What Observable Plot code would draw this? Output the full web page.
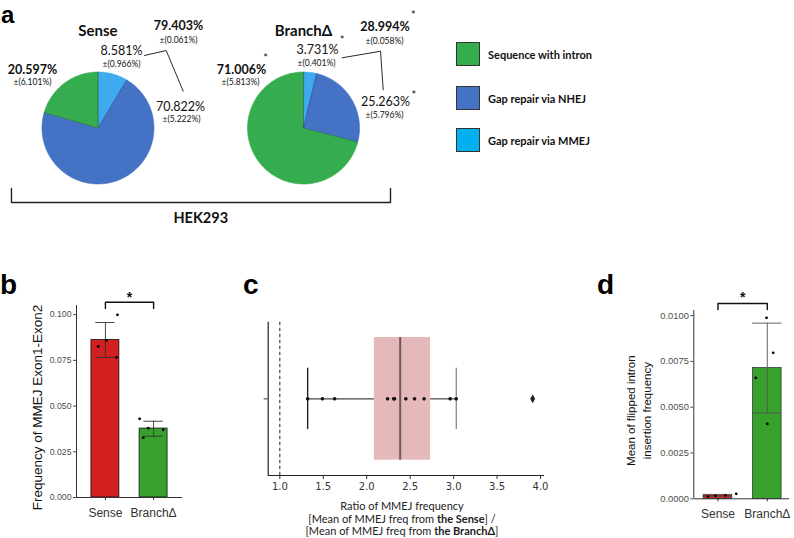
<!DOCTYPE html>
<html>
<head>
<meta charset="utf-8">
<script src="https://cdn.jsdelivr.net/npm/d3@7"></script>
<script src="https://cdn.jsdelivr.net/npm/@observablehq/plot@0.6"></script>
<style>
  body { margin: 0; background: #fff; }
  #fig { position: relative; width: 794px; height: 538px; overflow: hidden; background: #fff; }
  .letter { position: absolute; font: bold 28px "Liberation Sans", Arial, sans-serif; line-height: 1; color: #000; }
  .legend-item { position: absolute; left: 456px; height: 24px; display: flex; align-items: center; }
  .swatch { width: 22px; height: 22px; border: 1px solid #333; box-sizing: content-box; }
  .legend-text { margin-left: 8px; font: bold 11px Lato, "Open Sans", sans-serif; color: #111; white-space: nowrap; }
  #clabel { position: absolute; left: 290px; width: 224px; top: 500px; text-align: center; font: 11px Lato, "Open Sans", sans-serif; line-height: 12.5px; color: #222; white-space: nowrap; }
</style>
</head>
<body>
<div id="fig"></div>
<script>
// ---------------- DATA ----------------
// Panel a: pie charts (HEK293)
const pieGroups = ["Sense", "BranchΔ"];
const pieCategories = ["Gap repair via MMEJ", "Gap repair via NHEJ", "Sequence with intron"];
const pieColors = ["#3eabf0", "#4472c4", "#35ad4f"];
const senseShares = [8.581, 70.822, 20.597];
const senseSD = [0.966, 5.222, 6.101];
const branchShares = [3.731, 25.263, 71.006];
const branchSD = [0.401, 5.796, 5.813];
const gapRepairTotals = [79.403, 28.994];
const gapRepairSD = [0.061, 0.058];
const branchStars = [true, true, true, true]; // MMEJ, NHEJ, intron, total
const legendLabels = ["Sequence with intron", "Gap repair via NHEJ", "Gap repair via MMEJ"];
const legendColors = ["#35ad4f", "#4472c4", "#00b0f0"];
const cellLine = "HEK293";

// Panel b: MMEJ Exon1-Exon2 frequency
const barGroups = ["Sense", "BranchΔ"];
const barColors = ["#d21f1f", "#38a12d"];
const mmejMeans = [0.0862, 0.0377];
const mmejErrLow = [0.0766, 0.0335];
const mmejErrHigh = [0.0957, 0.0417];
const mmejSensePoints = [0.0826, 0.0859, 0.0766, 0.0999];
const mmejBranchPoints = [0.0430, 0.0379, 0.0327, 0.0370];
const mmejTicks = [0, 0.025, 0.05, 0.075, 0.1];
const mmejLabel = "Frequency of MMEJ Exon1-Exon2";

// Panel c: ratio of MMEJ frequency
const ratioValues = [1.32, 1.49, 1.63, 2.24, 2.31, 2.32, 2.45, 2.55, 2.66, 2.96, 3.03, 3.91];
const ratioTicks = [1.0, 1.5, 2.0, 2.5, 3.0, 3.5, 4.0];

// Panel d: flipped intron insertion frequency
const flipMeans = [0.000185, 0.00714];
const flipErrLow = [0.00012, 0.00469];
const flipErrHigh = [0.00024, 0.00959];
const flipSensePoints = [0.00012, 0.00016, 0.00019, 0.00027];
const flipBranchPoints = [0.00988, 0.00797, 0.00660, 0.00409];
const flipTicks = [0, 0.0025, 0.005, 0.0075, 0.01];
const flipLabel = "Mean of flipped intron\ninsertion frequency";

// ---------------- LAYOUT (positions, not data) ----------------
const pieCenters = [0, 3.67];
const labelPos = [
  [ {vx: 0.420, vy: 1.371, ex: 0.420, ey: 1.146},
    {vx: 1.473, vy: 0.384, ex: 1.491, ey: 0.164},
    {vx: -1.170, vy: 1.027, ex: -1.170, ey: 0.818},
    {vx: 1.4375, vy: 1.830, ex: 1.4375, ey: 1.5625} ],
  [ {vx: 0.25, vy: 1.396, ex: 0.232, ey: 1.164, sx: 0.691, sy: 1.565},
    {vx: 1.464, vy: 0.461, ex: 1.446, ey: 0.223, sx: 1.970, sy: 0.575},
    {vx: -1.107, vy: 1.027, ex: -1.125, ey: 0.818, sx: -0.679, sy: 1.249},
    {vx: 1.455, vy: 1.80, ex: 1.446, ey: 1.55, sx: 1.959, sy: 2.004} ]
];
const connectorPos = [
  [[0.830, 1.295], [1.218, 1.384], [1.521, 0.657]],
  [[0.691, 1.254], [1.375, 1.371], [1.423, 0.682]]
];
const bJitter = [[-0.15, 0.02, 0.23, 0.25], [-0.29, -0.11, -0.215, 0.2]];
const dJitter = [[-0.2, -0.05, 0.15, 0.37], [-0.016, 0.12, -0.235, 0.0]];

// ---------------- HELPERS ----------------
const fig = document.getElementById("fig");
function place(el, left, top) {
  el.style.position = "absolute";
  el.style.left = left + "px";
  el.style.top = top + "px";
  el.style.overflow = "visible";
  el.style.background = "transparent";
  el.style.maxWidth = "none";
  fig.appendChild(el);
}
function addDiv(cls, html, left, top) {
  const d = document.createElement("div");
  d.className = cls;
  d.innerHTML = html;
  d.style.left = left + "px";
  d.style.top = top + "px";
  fig.appendChild(d);
  return d;
}

// ---------------- PANEL a ----------------
function slicePolygons(values, g) {
  const arcs = d3.pie().sort(null)(values);
  const out = [];
  arcs.forEach((a, k) => {
    const key = g + "-" + k;
    const cx = pieCenters[g];
    out.push({key, cat: pieCategories[k], x: cx, y: 0});
    const n = Math.max(2, Math.ceil((a.endAngle - a.startAngle) / 0.02));
    for (let j = 0; j <= n; j++) {
      const t = a.startAngle + (a.endAngle - a.startAngle) * j / n;
      out.push({key, cat: pieCategories[k], x: cx + Math.sin(t), y: Math.cos(t)});
    }
  });
  return out;
}
function sliceSeparators(values, g) {
  return d3.pie().sort(null)(values).map(a => ({
    x1: pieCenters[g], y1: 0, x2: pieCenters[g] + Math.sin(a.startAngle), y2: Math.cos(a.startAngle)
  }));
}
const allShares = [senseShares, branchShares];
const allSD = [senseSD, branchSD];
const pieSlices = allShares.flatMap((v, g) => slicePolygons(v, g));
const pieSeps = allShares.flatMap((v, g) => sliceSeparators(v, g));

const valueLabels = [], errLabels = [], starLabels = [];
allShares.forEach((vals, g) => {
  const cx = pieCenters[g];
  const entries = vals.map((v, k) => ({v, sd: allSD[g][k], bold: k === 2}));
  entries.push({v: gapRepairTotals[g], sd: gapRepairSD[g], bold: true});
  entries.forEach((e, k) => {
    const p = labelPos[g][k];
    valueLabels.push({x: cx + p.vx, y: p.vy, text: e.v.toFixed(3) + "%", bold: e.bold});
    errLabels.push({x: cx + p.ex, y: p.ey, text: "±(" + e.sd.toFixed(3) + "%)"});
    if (g === 1 && branchStars[k]) starLabels.push({x: cx + p.sx, y: p.sy});
  });
});
const connectors = connectorPos.flatMap((pts, g) => pts.map(([x, y]) => ({g, x: pieCenters[g] + x, y})));
const titles = pieGroups.map((name, g) => ({x: pieCenters[g], y: 1.729, name}));
const hekBracket = [
  {x: pieCenters[0] - 1.545, y: -1.08}, {x: pieCenters[0] - 1.545, y: -1.33},
  {x: pieCenters[1] + 1.553, y: -1.33}, {x: pieCenters[1] + 1.553, y: -1.08}
];

const plotA = Plot.plot({
  width: 440, height: 240, margin: 0,
  x: {domain: [-1.741, 6.116], axis: null},
  y: {domain: [-2.009, 2.277], axis: null},
  color: {domain: pieCategories, range: pieColors},
  style: {fontFamily: "Lato, 'Open Sans', sans-serif", color: "#111", background: "transparent"},
  marks: [
    Plot.line(pieSlices, {x: "x", y: "y", z: "key", fill: "cat", stroke: "cat", strokeWidth: 0.6, curve: "linear-closed"}),
    Plot.link(pieSeps, {x1: "x1", y1: "y1", x2: "x2", y2: "y2", stroke: "#2a3f6e", strokeWidth: 0.6, strokeOpacity: 0.8}),
    Plot.line(connectors, {x: "x", y: "y", z: "g", stroke: "#111", strokeWidth: 0.9}),
    Plot.text(titles, {x: "x", y: "y", text: "name", fontSize: 15, fontWeight: "bold", fill: "#111"}),
    Plot.text(valueLabels.filter(d => d.bold), {x: "x", y: "y", text: "text", fontSize: 12.5, fontWeight: "bold", fill: "#111"}),
    Plot.text(valueLabels.filter(d => !d.bold), {x: "x", y: "y", text: "text", fontSize: 12.5, fill: "#111"}),
    Plot.text(errLabels, {x: "x", y: "y", text: "text", fontSize: 8.5, fill: "#111"}),
    Plot.text(starLabels, {x: "x", y: "y", text: () => "*", fontSize: 11, fill: "#111"}),
    Plot.line(hekBracket, {x: "x", y: "y", stroke: "#222", strokeWidth: 1.4}),
    Plot.text([cellLine], {x: (pieCenters[0] + pieCenters[1]) / 2, y: -1.607, text: d => d, fontSize: 14.5, fontWeight: "bold", fill: "#111"})
  ]
});
place(plotA, 0, 0);

// Legend
legendLabels.forEach((lab, i) => {
  addDiv("legend-item", `<div class="swatch" style="background:${legendColors[i]}"></div><div class="legend-text">${lab}</div>`, 456, [42, 86, 128][i]);
});

// ---------------- PANEL b ----------------
const bData = barGroups.map((g, i) => ({i, g, mean: mmejMeans[i], lo: mmejErrLow[i], hi: mmejErrHigh[i], color: barColors[i]}));
const bPts = [mmejSensePoints, mmejBranchPoints].flatMap((arr, i) => arr.map((v, j) => ({i, v, j: bJitter[i][j]})));
const bBracket = [{x: 0, y: 0.1034}, {x: 0, y: 0.1068}, {x: 1, y: 0.1068}, {x: 1, y: 0.1034}];
const plotB = Plot.plot({
  width: 190, height: 253, marginLeft: 76, marginRight: 8, marginTop: 20, marginBottom: 41,
  x: {domain: [-0.6, 1.6]},
  y: {domain: [0, 0.105]},
  color: {type: "identity"},
  style: {fontFamily: "'Liberation Sans', Arial, sans-serif", background: "transparent"},
  marks: [
    Plot.rect(bData, {x1: d => d.i - 0.29, x2: d => d.i + 0.29, y1: 0, y2: "mean", fill: "color", stroke: "#111", strokeWidth: 0.8}),
    Plot.ruleX(bData, {x: "i", y1: "lo", y2: "hi", stroke: "#333", strokeWidth: 0.9}),
    Plot.ruleY(bData, {y: "lo", x1: d => d.i - 0.2, x2: d => d.i + 0.2, stroke: "#333", strokeWidth: 0.9}),
    Plot.ruleY(bData, {y: "hi", x1: d => d.i - 0.2, x2: d => d.i + 0.2, stroke: "#333", strokeWidth: 0.9}),
    Plot.dot(bPts, {x: d => d.i + d.j, y: "v", r: 1.4, fill: "#000"}),
    Plot.ruleX([-0.6], {stroke: "#333", strokeWidth: 1}),
    Plot.ruleY([0], {stroke: "#333", strokeWidth: 1}),
    Plot.axisY({ticks: mmejTicks, tickFormat: d3.format(".3f"), tickSize: 3, tickPadding: 2, fontSize: 8.7, color: "#4d4d4d", label: null}),
    Plot.axisX({ticks: [0, 1], tickFormat: i => barGroups[i], tickSize: 3, tickPadding: 8, fontSize: 12, color: "#333", label: null}),
    Plot.line(bBracket, {x: "x", y: "y", stroke: "#111", strokeWidth: 1.4}),
    Plot.text(["*"], {x: 0.5, y: 0.1091, text: d => d, fontSize: 14, fontWeight: "bold", fill: "#111"}),
    Plot.text([mmejLabel], {text: d => d, frameAnchor: "left", textAnchor: "middle", dx: -39, dy: 6, rotate: -90, fontSize: 13.5, fill: "#111"})
  ]
});
place(plotB, 0, 285);

// ---------------- PANEL c ----------------
const sortedR = ratioValues.slice().sort(d3.ascending);
const q1 = d3.quantile(sortedR, 0.25), med = d3.quantile(sortedR, 0.5), q3 = d3.quantile(sortedR, 0.75);
const iqr = q3 - q1;
const wLo = d3.min(sortedR.filter(v => v >= q1 - 1.5 * iqr));
const wHi = d3.max(sortedR.filter(v => v <= q3 + 1.5 * iqr));
const box = {q1, med, q3, lo: wLo, hi: wHi};
const inliers = sortedR.filter(v => v >= wLo && v <= wHi);
const outliers = sortedR.filter(v => v < wLo || v > wHi);
const cDomain = [0.866, 4.046];
const plotC = Plot.plot({
  width: 360, height: 253, marginLeft: 47.7, marginRight: 36, marginTop: 36.7, marginBottom: 63,
  x: {domain: cDomain},
  y: {domain: [-0.5, 0.5]},
  style: {fontFamily: "'DejaVu Sans', sans-serif", background: "transparent"},
  marks: [
    Plot.rect([box], {x1: "q1", x2: "q3", y1: -0.4, y2: 0.4, fill: "#e5b8b9"}),
    Plot.ruleY([box], {y: 0, x1: "lo", x2: "q1", stroke: "#444", strokeWidth: 1.2}),
    Plot.ruleY([box], {y: 0, x1: "q3", x2: "hi", stroke: "#444", strokeWidth: 1.2}),
    Plot.ruleX([box], {x: "lo", y1: -0.2, y2: 0.2, stroke: "#222", strokeWidth: 1.4}),
    Plot.ruleX([box], {x: "hi", y1: -0.2, y2: 0.2, stroke: "#666", strokeWidth: 1}),
    Plot.ruleX([box], {x: "med", y1: -0.4, y2: 0.4, stroke: "#6b5a5a", strokeWidth: 2}),
    Plot.ruleX([1], {stroke: "#222", strokeWidth: 1, strokeDasharray: "3.5,2.5"}),
    Plot.dot(inliers, {x: d => d, y: 0, r: 1.8, fill: "#111"}),
    Plot.dot(outliers, {x: d => d, y: 0, r: 2.6, symbol: "diamond", fill: "#222"}),
    Plot.ruleX([cDomain[0]], {stroke: "#222", strokeWidth: 1.2}),
    Plot.ruleY([-0.5], {stroke: "#222", strokeWidth: 1.2}),
    Plot.axisX({ticks: ratioTicks, tickFormat: d3.format(".1f"), tickSize: 4, tickPadding: 3, fontSize: 10, color: "#333", label: null}),
    Plot.axisY({ticks: [0], tickFormat: () => "", tickSize: 4, color: "#333", label: null})
  ]
});
place(plotC, 220, 285);
const cl = document.createElement("div");
cl.id = "clabel";
cl.innerHTML = "Ratio of MMEJ frequency<br>[Mean of MMEJ freq from <b>the Sense</b>] /<br>[Mean of MMEJ freq from <b>the BranchΔ</b>]";
fig.appendChild(cl);

// ---------------- PANEL d ----------------
const dData = barGroups.map((g, i) => ({i, g, mean: flipMeans[i], lo: flipErrLow[i], hi: flipErrHigh[i], color: barColors[i]}));
const dPts = [flipSensePoints, flipBranchPoints].flatMap((arr, i) => arr.map((v, j) => ({i, v, j: dJitter[i][j]})));
const dBracket = [{x: 0, y: 0.01033}, {x: 0, y: 0.01066}, {x: 1, y: 0.01066}, {x: 1, y: 0.01033}];
const plotD = Plot.plot({
  width: 214, height: 253, marginLeft: 113.3, marginRight: 5, marginTop: 25, marginBottom: 39.7,
  x: {domain: [-0.49, 1.45]},
  y: {domain: [0, 0.01028]},
  color: {type: "identity"},
  style: {fontFamily: "'Liberation Sans', Arial, sans-serif", background: "transparent"},
  marks: [
    Plot.rect(dData, {x1: d => d.i - 0.29, x2: d => d.i + 0.29, y1: 0, y2: "mean", fill: "color", stroke: "#111", strokeWidth: 0.6}),
    Plot.ruleX(dData, {x: "i", y1: "lo", y2: "hi", stroke: "#555", strokeWidth: 0.9}),
    Plot.ruleY(dData, {y: "lo", x1: d => d.i - 0.3, x2: d => d.i + 0.3, stroke: "#555", strokeWidth: 0.9}),
    Plot.ruleY(dData, {y: "hi", x1: d => d.i - 0.3, x2: d => d.i + 0.3, stroke: "#555", strokeWidth: 0.9}),
    Plot.dot(dPts, {x: d => d.i + d.j, y: "v", r: 1.4, fill: "#000"}),
    Plot.ruleX([-0.49], {stroke: "#333", strokeWidth: 1}),
    Plot.ruleY([0], {stroke: "#333", strokeWidth: 1}),
    Plot.axisY({ticks: flipTicks, tickFormat: d3.format(".4f"), tickSize: 3, tickPadding: 2, fontSize: 9.3, color: "#4d4d4d", label: null}),
    Plot.axisX({ticks: [0, 1], tickFormat: i => barGroups[i], tickSize: 3, tickPadding: 8, fontSize: 12, color: "#333", label: null}),
    Plot.line(dBracket, {x: "x", y: "y", stroke: "#111", strokeWidth: 1.4}),
    Plot.text(["*"], {x: 0.5, y: 0.0110, text: d => d, fontSize: 14, fontWeight: "bold", fill: "#111"}),
    Plot.text([flipLabel], {text: d => d, frameAnchor: "left", textAnchor: "middle", dx: -56, dy: 6, rotate: -90, fontSize: 11.5, lineHeight: 1.39, fill: "#111"})
  ]
});
place(plotD, 580, 285);

// Panel letters
const aLetter = addDiv("letter", "a", 1, 3);
aLetter.style.fontSize = "24px";
addDiv("letter", "b", 0, 271);
addDiv("letter", "c", 243, 271);
addDiv("letter", "d", 597, 271);
</script>
</body>
</html>
